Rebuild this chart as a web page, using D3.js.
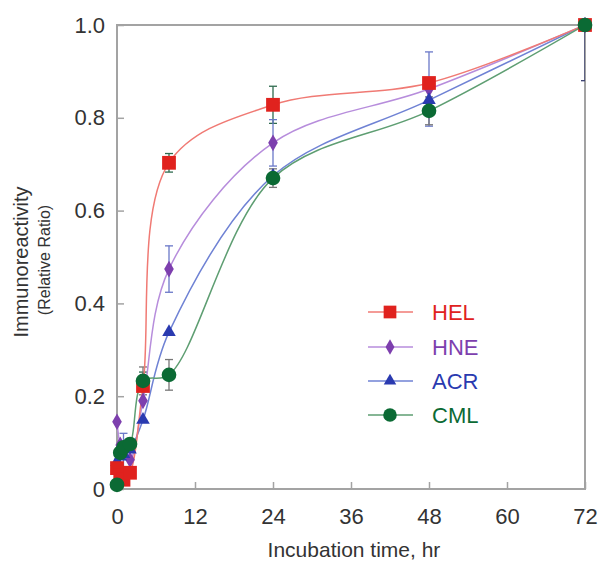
<!DOCTYPE html>
<html><head><meta charset="utf-8">
<script src="https://cdn.jsdelivr.net/npm/d3@7"></script>
<style>body{margin:0;background:#fff}svg{display:block}text{font-family:"Liberation Sans",Arial,sans-serif}</style>
</head><body><svg id="c" width="599" height="561"></svg>
<script>
const times = [0, 0.5, 1, 2, 4, 8, 24, 48, 72];
const xTicks = [0, 12, 24, 36, 48, 60, 72];
const yTicks = [0, 0.2, 0.4, 0.6, 0.8, 1.0];
const yTickLabels = ["0", "0.2", "0.4", "0.6", "0.8", "1.0"];
const seriesNames = ["HEL", "HNE", "ACR", "CML"];
const helValues = [0.045, 0.03, 0.02, 0.035, 0.222, 0.703, 0.828, 0.875, 1.0];
const hneValues = [0.145, 0.095, 0.08, 0.063, 0.19, 0.474, 0.746, 0.862, 1.0];
const acrValues = [0.058, 0.07, 0.075, 0.085, 0.149, 0.338, 0.675, 0.838, 1.0];
const cmlValues = [0.009, 0.078, 0.09, 0.097, 0.233, 0.246, 0.67, 0.815, 1.0];
const helErr = [0, 0, 0, 0, 0.03, 0.02, 0.04, 0, 0];
const hneErr = [0, 0, 0.04, 0, 0, 0.05, 0.05, 0.08, 0];
const acrErr = [0, 0.03, 0, 0, 0, 0, 0, 0, 0.12];
const cmlErr = [0, 0, 0, 0, 0.03, 0.033, 0.02, 0.03, 0];

const svg = d3.select("#c");
const L = 117, R = 585, T = 25, B = 489;
const x = d3.scaleLinear().domain([0, 72]).range([L, R]);
const y = d3.scaleLinear().domain([0, 1]).range([B, T]);

const series = [
  {name: "HEL", vals: helValues, err: helErr, mark: "#e0221e", line: "#f07a74", errc: "#2f6b4f", sym: d3.symbolSquare, size: 190},
  {name: "HNE", vals: hneValues, err: hneErr, mark: "#7d3fae", line: "#b78ddc", errc: "#6a78c8", sym: d3.symbolDiamond, size: 80},
  {name: "ACR", vals: acrValues, err: acrErr, mark: "#2a3ab0", line: "#6f82d4", errc: "#3a3f70", sym: d3.symbolTriangle, size: 80},
  {name: "CML", vals: cmlValues, err: cmlErr, mark: "#0b6a34", line: "#5e9e72", errc: "#777777", sym: d3.symbolCircle, size: 170}
];
const drawOrder = [1, 2, 0, 3];

svg.append("defs").append("clipPath").attr("id", "clip")
  .append("rect").attr("x", L).attr("y", T).attr("width", R - L).attr("height", B - T);

const axc = "#a3a3a3";
svg.append("rect").attr("x", L).attr("y", T).attr("width", R - L).attr("height", B - T)
  .attr("fill", "none").attr("stroke", axc).attr("stroke-width", 2);

const xa = svg.append("g").attr("transform", `translate(0,${B})`)
  .call(d3.axisBottom(x).tickValues(xTicks).tickSize(-7).tickPadding(19).tickFormat(d3.format("d")));
const ya = svg.append("g").attr("transform", `translate(${L},0)`)
  .call(d3.axisLeft(y).tickValues(yTicks).tickSize(-7).tickPadding(12).tickFormat((d, i) => yTickLabels[i]));
[xa, ya].forEach(g => {
  g.select(".domain").remove();
  g.selectAll(".tick line").attr("stroke", axc).attr("stroke-width", 1.5);
  g.selectAll(".tick text").attr("fill", "#333").style("font-size", "22px");
});

svg.append("text").attr("x", 354).attr("y", 557).attr("text-anchor", "middle")
  .attr("fill", "#333").style("font-size", "21px").text("Incubation time, hr");
svg.append("text").attr("transform", "translate(28,262) rotate(-90)").attr("text-anchor", "middle")
  .attr("fill", "#333").style("font-size", "20px").text("Immunoreactivity");
svg.append("text").attr("transform", "translate(50,260) rotate(-90)").attr("text-anchor", "middle")
  .attr("fill", "#333").style("font-size", "16px").text("(Relative Ratio)");

const plot = svg.append("g").attr("clip-path", "url(#clip)");
const plotM = svg.append("g");

series.forEach(s => {
  s.vals.forEach((v, i) => {
    const e = s.err[i]; if (!e) return;
    const g = plot.append("g").attr("stroke", s.errc).attr("stroke-width", 1.3);
    g.append("line").attr("x1", x(times[i])).attr("x2", x(times[i])).attr("y1", y(v - e)).attr("y2", y(v + e));
    [v - e, v + e].forEach(t => g.append("line").attr("x1", x(times[i]) - 4).attr("x2", x(times[i]) + 4).attr("y1", y(t)).attr("y2", y(t)));
  });
});

const line = d3.line().x((d, i) => x(times[i])).y(d => y(d)).curve(d3.curveCatmullRom.alpha(0.5));
drawOrder.forEach(k => {
  const s = series[k];
  plot.append("path").attr("d", line(s.vals)).attr("fill", "none").attr("stroke", s.line).attr("stroke-width", 1.5);
});
drawOrder.forEach(k => {
  const s = series[k];
  plotM.selectAll(null).data(s.vals).join("path")
    .attr("transform", (d, i) => `translate(${x(times[i])},${y(d)})`)
    .attr("d", d3.symbol(s.sym, s.size)).attr("fill", s.mark);
});

const legY = [312, 347, 381, 415];
series.forEach((s, i) => {
  const g = svg.append("g").attr("transform", `translate(0,${legY[i]})`);
  g.append("line").attr("x1", 368).attr("x2", 413).attr("stroke", s.line).attr("stroke-width", 1.5);
  g.append("path").attr("transform", "translate(390,0)").attr("d", d3.symbol(s.sym, s.size * 0.85)).attr("fill", s.mark);
  g.append("text").attr("x", 432).attr("y", 8).attr("fill", s.mark).style("font-size", "22px").text(seriesNames[i]);
});
</script></body></html>
